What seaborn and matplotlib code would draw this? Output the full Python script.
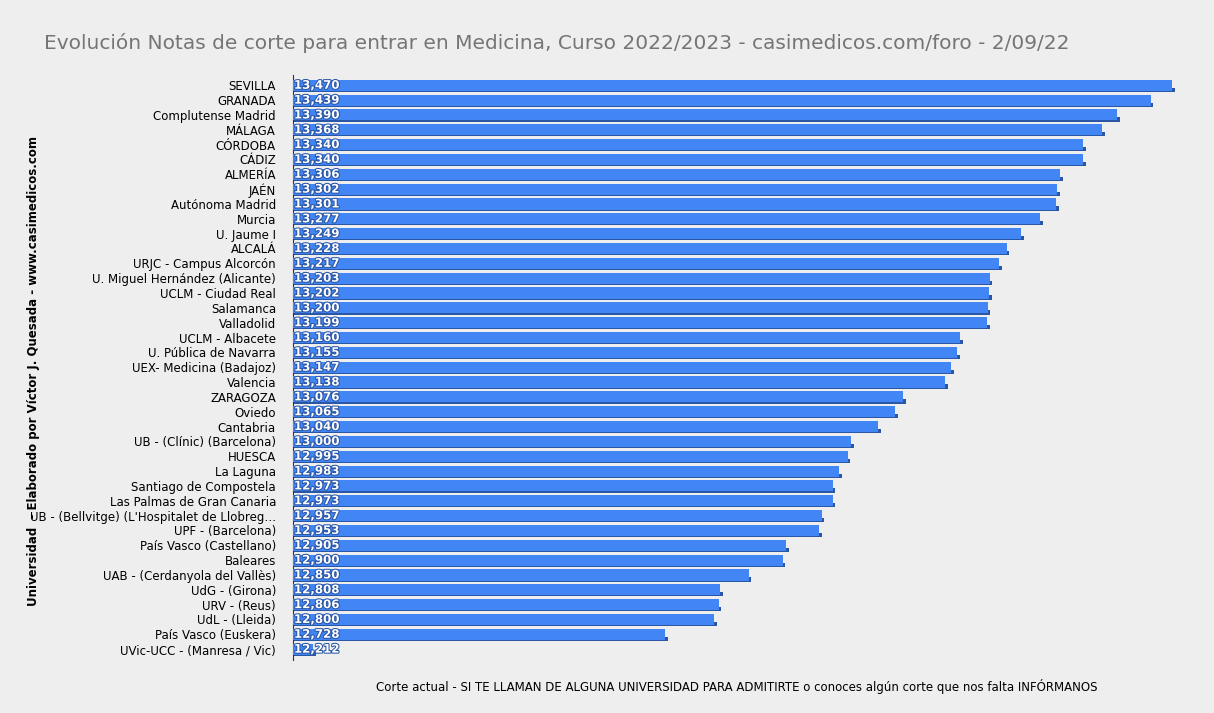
import matplotlib
matplotlib.use("Agg")
import matplotlib.pyplot as plt
import matplotlib.patheffects as pe
from matplotlib.patches import Rectangle
import seaborn as sns
import pandas as pd

universidades = ["SEVILLA", "GRANADA", "Complutense Madrid", "MÁLAGA", "CÓRDOBA", "CÁDIZ",
    "ALMERÍA", "JAÉN", "Autónoma Madrid", "Murcia", "U. Jaume I", "ALCALÁ",
    "URJC - Campus Alcorcón", "U. Miguel Hernández (Alicante)", "UCLM - Ciudad Real",
    "Salamanca", "Valladolid", "UCLM - Albacete", "U. Pública de Navarra",
    "UEX- Medicina (Badajoz)", "Valencia", "ZARAGOZA", "Oviedo", "Cantabria",
    "UB - (Clínic) (Barcelona)", "HUESCA", "La Laguna", "Santiago de Compostela",
    "Las Palmas de Gran Canaria", "UB - (Bellvitge) (L'Hospitalet de Llobreg…",
    "UPF - (Barcelona)", "País Vasco (Castellano)", "Baleares", "UAB - (Cerdanyola del Vallès)",
    "UdG - (Girona)", "URV - (Reus)", "UdL - (Lleida)", "País Vasco (Euskera)",
    "UVic-UCC - (Manresa / Vic)"]
notas = [13.470, 13.439, 13.390, 13.368, 13.340, 13.340, 13.306, 13.302, 13.301, 13.277,
    13.249, 13.228, 13.217, 13.203, 13.202, 13.200, 13.199, 13.160, 13.155, 13.147,
    13.138, 13.076, 13.065, 13.040, 13.000, 12.995, 12.983, 12.973, 12.973, 12.957,
    12.953, 12.905, 12.900, 12.850, 12.808, 12.806, 12.800, 12.728, 12.212]

df = pd.DataFrame({"uni": universidades, "nota": notas})
bg = "#eeeeee"
fig = plt.figure(figsize=(12.14, 7.13), dpi=100, facecolor=bg)
ax = fig.add_axes([0.241, 0.075, 0.731, 0.82])
ax.set_facecolor(bg)
xmin = 12.182
sns.barplot(data=df, x="nota", y="uni", orient="h", color="#4285f4", saturation=1,
            width=0.75, ax=ax, zorder=3)
ax.set_xlim(xmin, 13.482)
for p in ax.patches:
    w = p.get_width()
    p.set_x(xmin); p.set_width(w - xmin)
    shadow = Rectangle((xmin, p.get_y() + p.get_height() * 0.72), w - xmin + 0.004,
                       p.get_height() * 0.38, color="#2a56a6", zorder=2, lw=0)
    ax.add_patch(shadow)
for i, v in enumerate(notas):
    ax.text(xmin + 0.002, i, f"{v:.3f}".replace(".", ","), va="center", ha="left",
            color="white", fontsize=8.5, fontweight="bold", zorder=5,
            path_effects=[pe.withStroke(linewidth=1.5, foreground="#2a56a6")])
ax.set_ylim(len(notas) - 0.3, -0.7)
ax.set_xticks([])
ax.tick_params(axis="y", length=0, labelsize=8.5, pad=12)
for s in ["top", "right", "bottom"]:
    ax.spines[s].set_visible(False)
ax.spines["left"].set_color("#333333")
ax.set_xlabel("Corte actual - SI TE LLAMAN DE ALGUNA UNIVERSIDAD PARA ADMITIRTE o conoces algún corte que nos falta INFÓRMANOS",
              fontsize=8.5, labelpad=14)
ax.set_ylabel("")
fig.text(0.028, 0.48, "Universidad  - Elaborado por Víctor J. Quesada - www.casimedicos.com",
         rotation=90, ha="center", va="center", fontsize=8.5, fontweight="bold")
fig.text(0.036, 0.94, "Evolución Notas de corte para entrar en Medicina, Curso 2022/2023 - casimedicos.com/foro - 2/09/22",
         fontsize=14.5, color="#757575", va="center")
fig.savefig("out.png", dpi=100, facecolor=bg)
